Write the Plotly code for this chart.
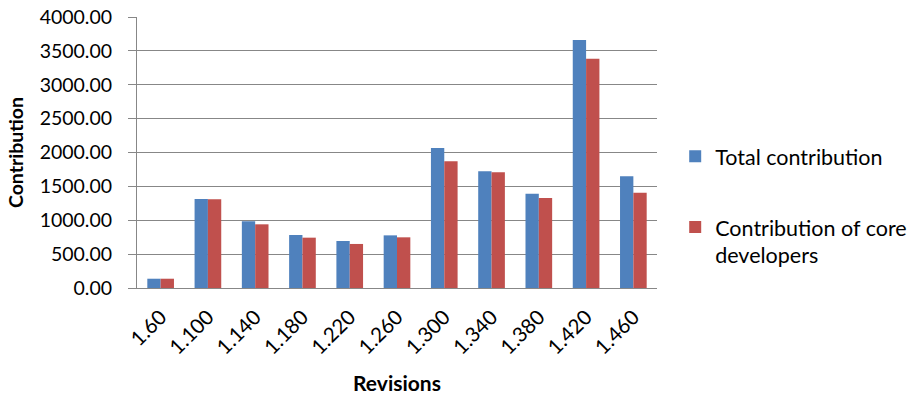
import plotly.graph_objects as go

# Revision labels and contribution per revision
revisions = ["1.60", "1.100", "1.140", "1.180", "1.220", "1.260",
             "1.300", "1.340", "1.380", "1.420", "1.460"]
total_contribution = [137, 1314, 984, 782, 694, 777, 2066, 1722, 1392, 3660, 1648]
core_contribution = [137, 1309, 940, 743, 650, 748, 1870, 1707, 1328, 3385, 1407]

series_names = ["Total contribution", "Contribution of core<br>developers"]
y_ticks = [0, 500, 1000, 1500, 2000, 2500, 3000, 3500, 4000]

BLUE = "#4F81BD"
RED = "#C0504D"
GRID = "#878787"
FONT = "Lato, Calibri, sans-serif"

fig = go.Figure()
fig.add_trace(go.Bar(x=revisions, y=total_contribution, name=series_names[0],
                     marker=dict(color=BLUE, line=dict(width=0)),
                     legendgroup="a"))
fig.add_trace(go.Bar(x=revisions, y=core_contribution, name=series_names[1],
                     marker=dict(color=RED, line=dict(width=0)),
                     legendgroup="b"))

fig.update_layout(
    width=907, height=396,
    margin=dict(l=137, r=250, t=17, b=108, autoexpand=False),
    paper_bgcolor="white", plot_bgcolor="white",
    font=dict(family=FONT, size=19.5, color="black"),
    barmode="group", bargap=0.436, bargroupgap=0,
    showlegend=True,
    legend=dict(x=1.035, xanchor="left", y=0.562, yanchor="top",
                traceorder="grouped", tracegroupgap=40, valign="top",
                itemwidth=30, font=dict(size=21.5),
                bgcolor="rgba(0,0,0,0)"),
    xaxis=dict(
        type="category", tickangle=-45, showgrid=False, automargin=False,
        showline=True, linecolor=GRID, linewidth=1,
        ticks="", tickfont=dict(size=20.5), ticklabelstandoff=8,
        title=dict(text="<b>Revisions</b>", font=dict(size=21), standoff=18),
    ),
    yaxis=dict(
        range=[0, 4000], tickvals=y_ticks, tickformat=".2f", automargin=False,
        showgrid=True, gridcolor=GRID, gridwidth=1,
        showline=True, linecolor=GRID, linewidth=1,
        ticks="outside", ticklen=8, tickcolor=GRID,
        zeroline=False, tickfont=dict(size=19.5), ticklabelstandoff=12,
        title=dict(text="<b>Contribution</b>", font=dict(size=19.5), standoff=10),
    ),
)

fig.write_html("out.html")
